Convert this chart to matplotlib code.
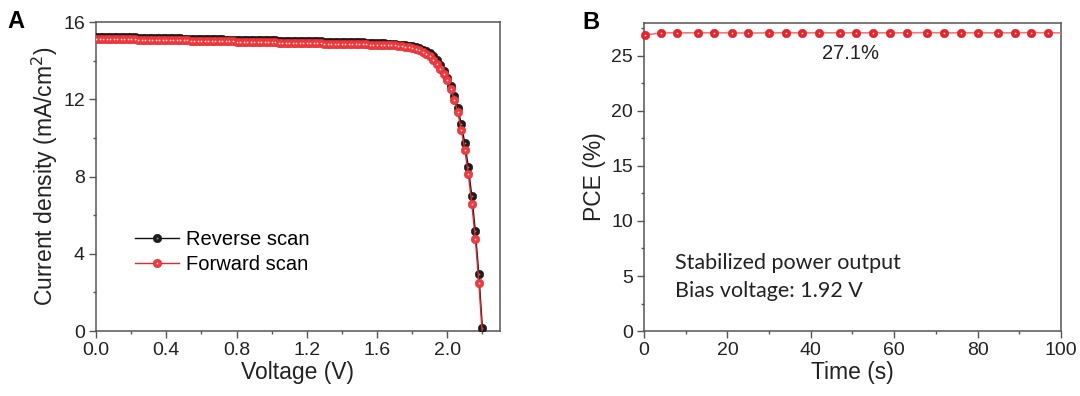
import numpy as np
import matplotlib
matplotlib.use("Agg")
import matplotlib.pyplot as plt
from matplotlib.ticker import MultipleLocator, FormatStrFormatter

plt.rcParams['font.family'] = ['Liberation Sans', 'DejaVu Sans']

# ---- panel A: J-V curves ----
voltage = np.round(np.arange(0, 111) * 0.02, 2)

j_reverse = [
    15.25, 15.25, 15.24, 15.24, 15.24, 15.23, 15.23, 15.22, 15.22, 15.22,
    15.21, 15.21, 15.20, 15.20, 15.20, 15.19, 15.19, 15.18, 15.18, 15.18,
    15.17, 15.17, 15.16, 15.16, 15.16, 15.15, 15.15, 15.14, 15.14, 15.14,
    15.13, 15.13, 15.12, 15.12, 15.12, 15.11, 15.11, 15.10, 15.10, 15.10,
    15.09, 15.09, 15.08, 15.08, 15.08, 15.07, 15.07, 15.06, 15.06, 15.06,
    15.05, 15.05, 15.04, 15.04, 15.04, 15.03, 15.03, 15.02, 15.02, 15.02,
    15.01, 15.01, 15.00, 15.00, 15.00, 14.99, 14.99, 14.98, 14.98, 14.98,
    14.97, 14.97, 14.96, 14.96, 14.96, 14.95, 14.95, 14.94, 14.94, 14.93,
    14.92, 14.91, 14.90, 14.89, 14.88, 14.86, 14.84, 14.82, 14.80, 14.77,
    14.74, 14.70, 14.65, 14.58, 14.49, 14.38, 14.23, 14.03, 13.78, 13.48,
    13.13, 12.67, 12.19, 11.55, 10.72, 9.72, 8.49, 6.97, 5.16, 2.93, 0.17,
]

j_forward = [
    15.15, 15.15, 15.14, 15.14, 15.14, 15.13, 15.13, 15.12, 15.12, 15.12,
    15.11, 15.11, 15.10, 15.10, 15.10, 15.09, 15.09, 15.08, 15.08, 15.08,
    15.07, 15.07, 15.06, 15.06, 15.06, 15.05, 15.05, 15.04, 15.04, 15.04,
    15.03, 15.03, 15.02, 15.02, 15.02, 15.01, 15.01, 15.00, 15.00, 15.00,
    14.99, 14.99, 14.98, 14.98, 14.98, 14.97, 14.97, 14.96, 14.96, 14.96,
    14.95, 14.95, 14.94, 14.94, 14.94, 14.93, 14.93, 14.92, 14.92, 14.92,
    14.91, 14.91, 14.90, 14.90, 14.90, 14.89, 14.89, 14.88, 14.88, 14.88,
    14.87, 14.87, 14.86, 14.86, 14.86, 14.85, 14.85, 14.85, 14.84, 14.84,
    14.84, 14.83, 14.82, 14.81, 14.80, 14.79, 14.77, 14.75, 14.73, 14.71,
    14.68, 14.62, 14.55, 14.46, 14.35, 14.22, 14.05, 13.82, 13.58, 13.30,
    13.00, 12.53, 11.98, 11.33, 10.41, 9.38, 8.11, 6.56, 4.75, 2.51, -0.25,
]

# ---- panel B: stabilized PCE ----
time_s = [0.3, 4.1, 8.0, 13.0, 16.9, 21.0, 25.0, 29.9, 34.0, 37.9, 41.9, 47.0,
          50.9, 54.9, 59.0, 63.0, 67.9, 72.0, 76.0, 80.0, 85.0, 89.0, 92.9, 96.9, 100.0]
pce = [26.9, 27.1, 27.1, 27.1, 27.1, 27.1, 27.08, 27.1, 27.1, 27.1, 27.1, 27.1,
       27.1, 27.1, 27.1, 27.1, 27.12, 27.1, 27.1, 27.1, 27.1, 27.1, 27.12, 27.1, 27.1]

fig = plt.figure(figsize=(10.8, 3.96), dpi=100)
axA = fig.add_axes([0.0889, 0.1641, 0.374, 0.780])
axB = fig.add_axes([0.5963, 0.1641, 0.386, 0.778])

spine_col = '#555555'
for ax in (axA, axB):
    for s in ax.spines.values():
        s.set_color(spine_col)
        s.set_linewidth(1.1)
    ax.tick_params(which='both', direction='out', color=spine_col, width=1.0,
                   labelsize=14, labelcolor='#222222', pad=3)
    ax.tick_params(which='major', length=5)
    ax.tick_params(which='minor', length=2.5)
    ax.tick_params(top=False, right=False)

# panel A
ms = 6.2
l_rev, = axA.plot(voltage, j_reverse, '-', color='#111111', lw=1.0,
                  marker='o', ms=ms, mfc='#1e1e1e', mec='#111111', mew=0.3, zorder=3)
h_rev, = axA.plot(voltage, j_reverse, 'none', marker='o', ms=1.3,
                  mfc='#8a8a8a', mec='none', zorder=3.1)
l_fwd, = axA.plot(voltage, j_forward, '-', color='#e8262b', lw=1.0,
                  marker='o', ms=ms, mfc='#f03a3e', mec='#e4242a', mew=0.3, zorder=4)
h_fwd, = axA.plot(voltage, j_forward, 'none', marker='o', ms=1.3,
                  mfc='#ffe4e4', mec='none', zorder=4.1)

axA.set_xlim(0, 2.3)
axA.set_ylim(0, 16)
axA.xaxis.set_major_locator(MultipleLocator(0.4))
axA.xaxis.set_minor_locator(MultipleLocator(0.2))
axA.yaxis.set_major_locator(MultipleLocator(4))
axA.yaxis.set_minor_locator(MultipleLocator(2))
axA.xaxis.set_major_formatter(FormatStrFormatter('%.1f'))
axA.set_xlabel('Voltage (V)', fontsize=16.5, color='#222222', labelpad=1)
axA.set_ylabel('Current density (mA/cm$^2$)', fontsize=16.5, color='#222222', labelpad=2)

axA.legend([(l_rev, h_rev), (l_fwd, h_fwd)], ['Reverse scan', 'Forward scan'],
           loc='center left', bbox_to_anchor=(0.097, 0.255), frameon=False,
           fontsize=14.5, handlelength=2.2, handletextpad=0.3, labelspacing=0.3,
           borderpad=0, borderaxespad=0, numpoints=1)

# panel B
axB.plot(time_s, pce, '-', color='#f07a7a', lw=1.2, zorder=3)
axB.plot(time_s[:-1], pce[:-1], 'none', marker='o', ms=6.2,
         mfc='#e8232b', mec='#d81f26', mew=0.3, zorder=4, clip_on=False)
axB.plot(time_s[:-1], pce[:-1], 'none', marker='o', ms=1.3,
         mfc='#ffd6d6', mec='none', zorder=4.1, clip_on=False)
axB.set_xlim(0, 100)
axB.set_ylim(0, 28)
axB.xaxis.set_major_locator(MultipleLocator(20))
axB.xaxis.set_minor_locator(MultipleLocator(10))
axB.yaxis.set_major_locator(MultipleLocator(5))
axB.yaxis.set_minor_locator(MultipleLocator(2.5))
axB.set_xlabel('Time (s)', fontsize=16.5, color='#222222', labelpad=1)
axB.set_ylabel('PCE (%)', fontsize=16.5, color='#222222', labelpad=4)

axB.text(49.5, 25.2, '27.1%', fontsize=14.5, color='#222222', ha='center', va='center')
note_font = ['Lato', 'DejaVu Sans']
axB.text(7.4, 6.2, 'Stabilized power output', fontsize=15.5, color='#222222',
         ha='left', va='center', family=note_font)
axB.text(7.4, 3.6, 'Bias voltage: 1.92 V', fontsize=15.5, color='#222222',
         ha='left', va='center', family=note_font)

# panel letters
fig.text(0.007, 0.975, 'A', fontsize=17, fontweight='bold', ha='left', va='top',
         family=['Liberation Sans Narrow', 'Liberation Sans', 'DejaVu Sans'])
fig.text(0.539, 0.972, 'B', fontsize=17, fontweight='bold', ha='left', va='top',
         family=['Liberation Sans Narrow', 'Liberation Sans', 'DejaVu Sans'])

fig.savefig('out.png', dpi=100)
